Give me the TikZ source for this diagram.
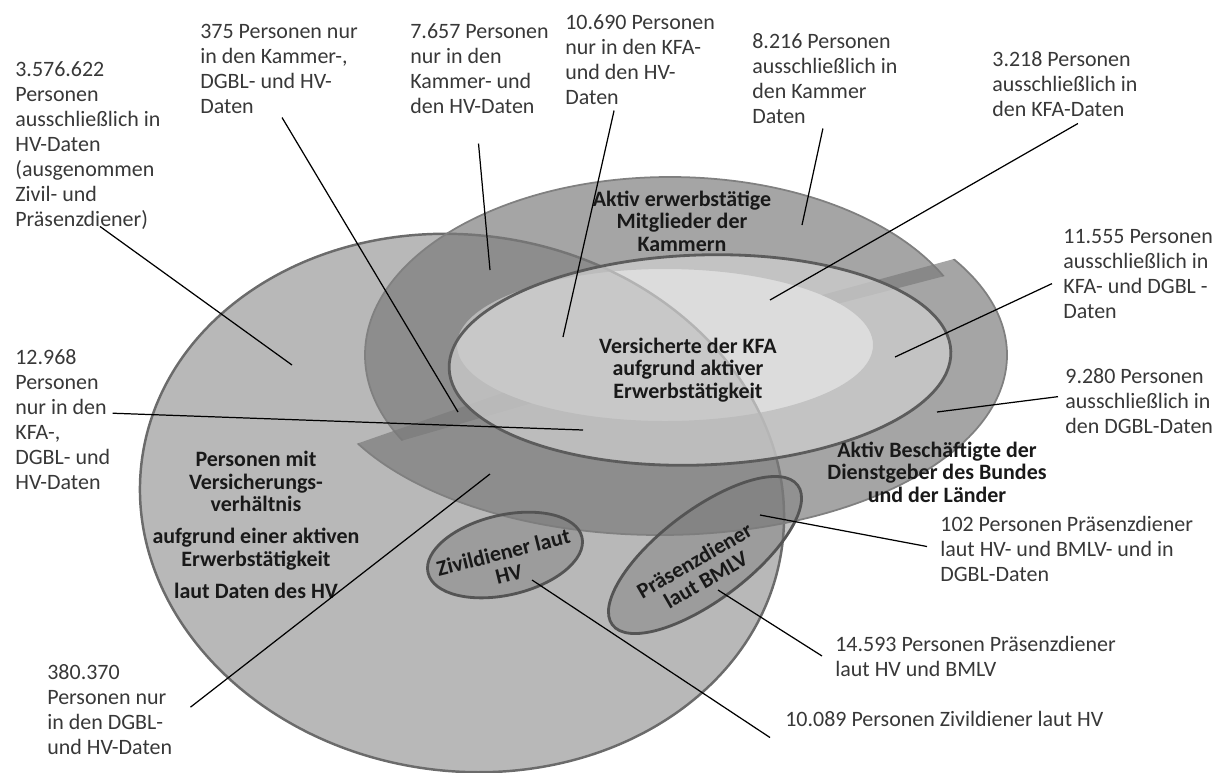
\documentclass[tikz,border=0pt]{standalone}
\usepackage{fontspec}
\setmainfont{Carlito}

\definecolor{HvFill}{gray}{0.72}
\definecolor{HvLine}{gray}{0.42}
\definecolor{RingFill}{gray}{0.48}
\definecolor{RingLine}{gray}{0.50}
\definecolor{KfaFill}{gray}{0.81}
\definecolor{KfaLine}{gray}{0.36}
\definecolor{SubLine}{gray}{0.33}

\begin{document}
\begin{tikzpicture}[
        %Environment config
        x=0.02cm, y=-0.02cm,
        %Environment styles
        LabelCfg/.style={
            font=\fontsize{12.5}{14.2}\selectfont,
            text=black!78,
            align=left,
            inner sep=0pt,
            anchor=base west
        },
        TitleCfg/.style={
            font=\bfseries\fontsize{12.5}{12.8}\selectfont,
            text=black!90,
            align=center,
            inner sep=0pt
        },
        RingCfg/.style={fill=RingFill, fill opacity=0.68, even odd rule},
        SubCfg/.style={fill=RingFill, fill opacity=0.45, draw=SubLine, line width=1.6pt},
        CallCfg/.style={draw=black, line width=0.7pt}
    ]
    \useasboundingbox (0,0) rectangle (1223,772);

    %HV
    \draw[fill=HvFill, draw=HvLine, line width=1.4pt, rotate around={-8:(462,503)}]
        (462,503) ellipse [x radius=323, y radius=268];
    %Kammern
    \begin{scope}
        \clip (290,473) -- (560,395) -- (760,324) -- (1060,246) -- (1060,100) -- (290,100) -- cycle;
        \fill[RingCfg] (670,355) ellipse [x radius=305, y radius=178]
            (665,345) ellipse [x radius=208, y radius=76];
        \draw[RingLine, line width=1pt] (670,355) ellipse [x radius=305, y radius=178];
    \end{scope}
    %DGBL
    \begin{scope}
        \clip (290,467) -- (560,373) -- (760,312) -- (1060,230) -- (1060,700) -- (290,700) -- cycle;
        \fill[RingCfg] (660,355) ellipse [x radius=347, y radius=180]
            (665,345) ellipse [x radius=208, y radius=76];
        \draw[RingLine, line width=1pt] (660,355) ellipse [x radius=347, y radius=180];
    \end{scope}
    %KFA
    \draw[fill=KfaFill, fill opacity=0.72, draw=KfaLine, line width=1.6pt, rotate around={2:(700,360)}]
        (700,360) ellipse [x radius=251, y radius=105];
    %Zivil- und Praesenzdiener
    \draw[SubCfg, rotate around={13:(505,555)}] (505,555) ellipse [x radius=79, y radius=40];
    \draw[SubCfg, rotate around={37:(705,555)}] (705,555) ellipse [x radius=116, y radius=45];

    \node[TitleCfg] (Kam) at (682,221) {Aktiv erwerbstätige\\Mitglieder der\\Kammern};
    \node[TitleCfg] (Kfa) at (688,370) {Versicherte der KFA\\aufgrund aktiver\\Erwerbstätigkeit};
    \node[TitleCfg] (Dgb) at (937,472) {Aktiv Beschäftigte der\\Dienstgeber des Bundes\\und der Länder};
    \node[TitleCfg] (Hv) at (256,525) {Personen mit\\Versicherungs-\\verhältnis\\[5.4pt]aufgrund einer aktiven\\Erwerbstätigkeit\\[5.4pt]laut Daten des HV};
    \node[TitleCfg, rotate=14] (Ziv) at (506,563) {Zivildiener laut\\HV};
    \node[TitleCfg, rotate=30] (Pra) at (700,570) {Präsenzdiener\\laut BMLV};

    %labels, anchored at the base of their last line
    \path
        (15,226) node[LabelCfg] (T1) {3.576.622\\Personen\\ausschließlich in\\HV-Daten\\(ausgenommen\\Zivil- und\\Präsenzdiener)}
        (200,113) node[LabelCfg] (T2) {375 Personen nur\\in den Kammer-,\\DGBL- und HV-\\Daten}
        (410,113) node[LabelCfg] (T3) {7.657 Personen\\nur in den\\Kammer- und\\den HV-Daten}
        (565,104) node[LabelCfg] (T4) {10.690 Personen\\nur in den KFA-\\und den HV-\\Daten}
        (752,123) node[LabelCfg] (T5) {8.216 Personen\\ausschließlich in\\den Kammer\\Daten}
        (992,116) node[LabelCfg] (T6) {3.218 Personen\\ausschließlich in\\den KFA-Daten}
        (1063,318) node[LabelCfg] (T7) {11.555 Personen\\ausschließlich in\\KFA- und DGBL -\\Daten}
        (1065,433) node[LabelCfg] (T8) {9.280 Personen\\ausschließlich in\\den DGBL-Daten}
        (15,489) node[LabelCfg] (T9) {12.968\\Personen\\nur in den\\KFA-,\\DGBL- und\\HV-Daten}
        (47,754) node[LabelCfg] (T10) {380.370\\Personen nur\\in den DGBL-\\und HV-Daten}
        (940,581) node[LabelCfg] (T11) {102 Personen Präsenzdiener\\laut HV- und BMLV- und in\\DGBL-Daten}
        (835,676) node[LabelCfg] (T12) {14.593 Personen Präsenzdiener\\laut HV und BMLV}
        (785,726) node[LabelCfg] (T13) {10.089 Personen Zivildiener laut HV};

    %callout ends
    \coordinate (P1) at (292,365);
    \coordinate (P2) at (458,412);
    \coordinate (P3) at (490,270);
    \coordinate (P4) at (563,337);
    \coordinate (P5) at (802,225);
    \coordinate (P6) at (770,300);
    \coordinate (P7) at (895,357);
    \coordinate (P8) at (937,412);
    \coordinate (P9) at (583,430);
    \coordinate (P10) at (490,474);
    \coordinate (P11) at (760,515);
    \coordinate (P12) at (718,590);
    \coordinate (P13) at (532,580);

    \draw[CallCfg]
        (T1.south) ++(12,-3) -- (P1)
        (T2.south) ++(3,4) -- (P2)
        (T3.south) ++(-1,30) -- (P3)
        (T4.south) ++(-26,6) -- (P4)
        (T5.south) ++(-2,5) -- (P5)
        (T6.south) ++(13,7) -- (P6)
        (T7.west) ++(-11,10) -- (P7)
        (T8.west) ++(-7,-4) -- (P8)
        (T9.east) ++(2,-6) -- (P9)
        (T10.east) ++(18,-2) -- (P10)
        (T11.west) ++(-13,-2) -- (P11)
        (T12.west) ++(-13,0) -- (P12)
        (T13.south west) ++(-15,11) -- (P13);
\end{tikzpicture}
\end{document}
